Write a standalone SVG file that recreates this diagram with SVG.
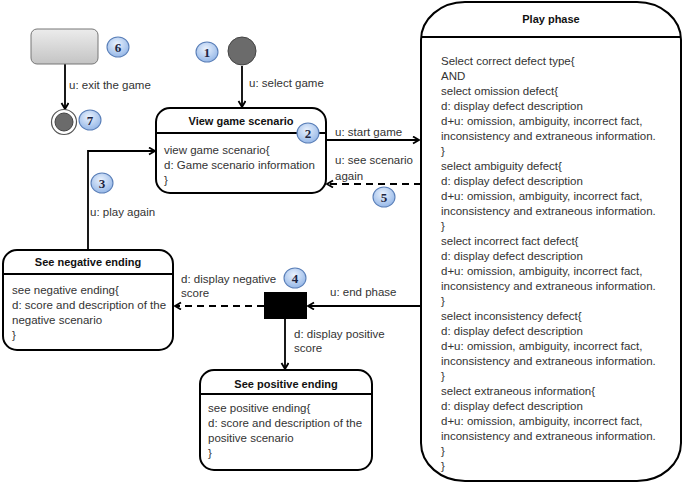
<svg xmlns="http://www.w3.org/2000/svg" width="685" height="486" viewBox="0 0 685 486">
<defs>
<linearGradient id="gray" x1="0" y1="0" x2="0" y2="1"><stop offset="0" stop-color="#ececec"/><stop offset="1" stop-color="#c4c4c4"/></linearGradient>
<radialGradient id="blue" cx="0.45" cy="0.35" r="0.7"><stop offset="0" stop-color="#eaf2fd"/><stop offset="1" stop-color="#8fb3e6"/></radialGradient>
<marker id="arr" markerWidth="10" markerHeight="10" refX="7" refY="4" orient="auto" markerUnits="userSpaceOnUse"><path d="M1,0.5 L7,4 L1,7.5" fill="none" stroke="#000" stroke-width="1.8"/></marker>
</defs>
<style>
.box{fill:#fff;stroke:#000;stroke-width:2}
.div{stroke:#000;stroke-width:1.8}
.t{font-family:"Liberation Sans",Arial,sans-serif;font-size:11.5px;fill:#333}
.h{font-family:"Liberation Sans",Arial,sans-serif;font-size:11px;font-weight:bold;fill:#111;text-anchor:middle}
.c{fill:none;stroke:#000;stroke-width:1.8;marker-end:url(#arr)}
.d{stroke-dasharray:7,5}
.b{fill:url(#blue);stroke:#5a7fb8;stroke-width:1.1}
.bn{font-family:"Liberation Serif","Times New Roman",serif;font-size:13px;font-weight:bold;fill:#1d2540;text-anchor:middle}
</style>
<rect width="685" height="486" fill="#fff"/>

<g id="connectors">
<path class="c" d="M65,64 L65,109"/>
<path class="c" d="M242,66 L242,107"/>
<path class="c" d="M326,140 L419,140"/>
<path class="c d" d="M421,184 L327,184"/>
<path class="c" d="M421,306 L308,306"/>
<path class="c d" d="M264,306 L175,306"/>
<path class="c" d="M285,319 L285,369"/>
<path class="c" d="M88,250 L88,151 L155,151"/>
<text class="t" x="69" y="89">u: exit the game</text>
<text class="t" x="249" y="87">u: select game</text>
<text class="t" x="335" y="136">u: start game</text>
<text class="t" x="335" y="164">u: see scenario</text>
<text class="t" x="335" y="180">again</text>
<text class="t" x="90" y="216">u: play again</text>
<text class="t" x="181" y="283">d: display negative</text>
<text class="t" x="181" y="297">score</text>
<text class="t" x="330" y="296">u: end phase</text>
<text class="t" x="294" y="338">d: display positive</text>
<text class="t" x="294" y="352">score</text>
</g>

<g id="exit-state">
<rect x="31" y="29" width="67" height="35" rx="6" fill="url(#gray)" stroke="#777" stroke-width="1"/>
</g>
<g id="final-state">
<circle cx="64" cy="122" r="12.5" fill="#fff" stroke="#555" stroke-width="1.2"/>
<circle cx="64" cy="122" r="9" fill="#6b6b6b" stroke="#444" stroke-width="1"/>
</g>
<g id="initial-state">
<circle cx="242" cy="51" r="14" fill="#6b6b6b" stroke="#444" stroke-width="1"/>
</g>

<g id="view-game-scenario">
<rect class="box" x="156" y="108" width="170" height="85" rx="14"/>
<line class="div" x1="156" y1="133" x2="326" y2="133"/>
<text class="h" x="241" y="125">View game scenario</text>
<text class="t" x="164" y="154">view game scenario{</text>
<text class="t" x="164" y="169">d: Game scenario information</text>
<text class="t" x="164" y="184">}</text>
</g>

<g id="play-phase">
<rect class="box" x="421" y="2" width="260" height="479" rx="44" ry="38"/>
<line class="div" x1="421" y1="37" x2="681" y2="37"/>
<text class="h" x="551" y="23">Play phase</text>
<text class="t" x="441" y="65">Select correct defect type{</text>
<text class="t" x="441" y="80">AND</text>
<text class="t" x="441" y="95">select omission defect{</text>
<text class="t" x="441" y="110">d: display defect description</text>
<text class="t" x="441" y="125">d+u: omission, ambiguity, incorrect fact,</text>
<text class="t" x="441" y="140">inconsistency and extraneous information.</text>
<text class="t" x="441" y="155">}</text>
<text class="t" x="441" y="170">select ambiguity defect{</text>
<text class="t" x="441" y="185">d: display defect description</text>
<text class="t" x="441" y="200">d+u: omission, ambiguity, incorrect fact,</text>
<text class="t" x="441" y="215">inconsistency and extraneous information.</text>
<text class="t" x="441" y="230">}</text>
<text class="t" x="441" y="245">select incorrect fact defect{</text>
<text class="t" x="441" y="260">d: display defect description</text>
<text class="t" x="441" y="275">d+u: omission, ambiguity, incorrect fact,</text>
<text class="t" x="441" y="290">inconsistency and extraneous information.</text>
<text class="t" x="441" y="305">}</text>
<text class="t" x="441" y="320">select inconsistency defect{</text>
<text class="t" x="441" y="335">d: display defect description</text>
<text class="t" x="441" y="350">d+u: omission, ambiguity, incorrect fact,</text>
<text class="t" x="441" y="365">inconsistency and extraneous information.</text>
<text class="t" x="441" y="380">}</text>
<text class="t" x="441" y="395">select extraneous information{</text>
<text class="t" x="441" y="410">d: display defect description</text>
<text class="t" x="441" y="425">d+u: omission, ambiguity, incorrect fact,</text>
<text class="t" x="441" y="440">inconsistency and extraneous information.</text>
<text class="t" x="441" y="455">}</text>
<text class="t" x="441" y="470">}</text>
</g>

<g id="see-negative-ending">
<rect class="box" x="3" y="250" width="170" height="100" rx="14"/>
<line class="div" x1="3" y1="274" x2="173" y2="274"/>
<text class="h" x="88" y="266">See negative ending</text>
<text class="t" x="12" y="294">see negative ending{</text>
<text class="t" x="12" y="309">d: score and description of the</text>
<text class="t" x="12" y="324">negative scenario</text>
<text class="t" x="12" y="339">}</text>
</g>

<g id="decision">
<rect x="264" y="292" width="43" height="27" fill="#000"/>
</g>

<g id="see-positive-ending">
<rect class="box" x="200" y="370" width="172" height="100" rx="14"/>
<line class="div" x1="200" y1="394" x2="372" y2="394"/>
<text class="h" x="286" y="388">See positive ending</text>
<text class="t" x="208" y="412">see positive ending{</text>
<text class="t" x="208" y="427">d: score and description of the</text>
<text class="t" x="208" y="442">positive scenario</text>
<text class="t" x="208" y="457">}</text>
</g>

<g id="badges">
<ellipse class="b" cx="207" cy="52" rx="11" ry="10"/><text class="bn" x="207" y="57">1</text>
<ellipse class="b" cx="308" cy="133" rx="11" ry="10"/><text class="bn" x="308" y="138">2</text>
<ellipse class="b" cx="102" cy="183" rx="11" ry="10"/><text class="bn" x="102" y="188">3</text>
<ellipse class="b" cx="295" cy="278" rx="11" ry="10"/><text class="bn" x="295" y="283">4</text>
<ellipse class="b" cx="384" cy="197" rx="11" ry="10"/><text class="bn" x="384" y="202">5</text>
<ellipse class="b" cx="118" cy="47" rx="11" ry="10"/><text class="bn" x="118" y="52">6</text>
<ellipse class="b" cx="90" cy="120" rx="11" ry="10"/><text class="bn" x="90" y="125">7</text>
</g>
</svg>
